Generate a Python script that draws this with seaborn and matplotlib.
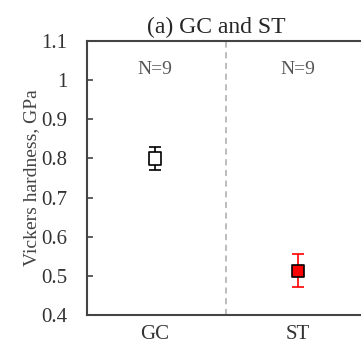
import numpy as np
import pandas as pd
import matplotlib
matplotlib.use("Agg")
import matplotlib.pyplot as plt
import seaborn as sns

# ================= DATA =================
groups = ["GC", "ST"]
hardness = [0.80, 0.513]
err_low = [0.03, 0.041]
err_high = [0.03, 0.043]
counts = ["N=9", "N=9"]
face_colors = ["white", "red"]
bar_colors = ["black", "red"]
y_ticks = [0.4, 0.5, 0.6, 0.7, 0.8, 0.9, 1.0, 1.1]
y_tick_labels = ["0.4", "0.5", "0.6", "0.7", "0.8", "0.9", "1", "1.1"]

df = pd.DataFrame({"group": groups, "hardness": hardness})
df["x"] = np.arange(len(groups))

# ================= STYLE =================
sns.set_style("ticks")
plt.rcParams["font.family"] = ["Liberation Serif", "DejaVu Serif"]

fig = plt.figure(figsize=(3.61, 3.45), dpi=100)
ax = fig.add_axes([87 / 361, 30 / 345, 279 / 361, 274 / 345])

# error bars
for i in range(len(groups)):
    ax.errorbar(df["x"][i], df["hardness"][i],
                yerr=[[err_low[i]], [err_high[i]]],
                fmt="none", ecolor=bar_colors[i], elinewidth=1.2,
                capsize=4, capthick=1.2, zorder=2)

# markers
sns.scatterplot(data=df, x="x", y="hardness", hue="group",
                palette=dict(zip(groups, face_colors)),
                marker="s", s=80, edgecolor="black", linewidth=1.2,
                legend=False, ax=ax, zorder=3)

# separator
ax.axvline(0.5, color="#aaaaaa", linestyle=(0, (4, 3)), linewidth=1.1)

for i in range(len(groups)):
    ax.text(df["x"][i], 1.028, counts[i], ha="center", va="center",
            fontsize=14, color="#555555")

ax.set_xlim(-0.475, 1.475)
ax.set_ylim(0.4, 1.1)
ax.set_xticks(df["x"])
ax.set_xticklabels(groups, fontsize=15, color="#333333")
ax.set_yticks(y_ticks)
ax.set_yticklabels(y_tick_labels, fontsize=15, color="#333333")
ax.tick_params(axis="y", direction="in", length=4, width=1.2, color="#444444", pad=14)
ax.tick_params(axis="x", length=0, pad=7)
ax.set_xlabel("")
ax.set_ylabel("Vickers hardness, GPa", fontsize=14, color="#444444", labelpad=1)
ax.set_title("(a) GC and ST", fontsize=17, pad=6, x=0.462)

for s in ["left", "bottom", "top"]:
    ax.spines[s].set_color("#444444")
    ax.spines[s].set_linewidth(1.5)
ax.spines["right"].set_visible(False)

plt.savefig("out.png", dpi=100)
plt.close()
